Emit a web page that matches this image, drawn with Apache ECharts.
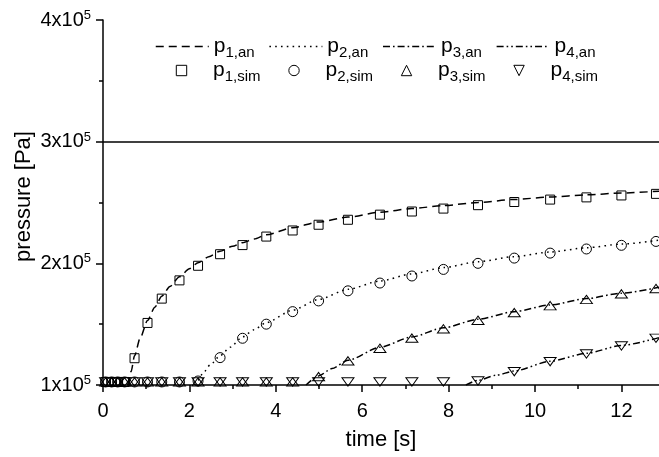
<!DOCTYPE html>
<html>
<head>
<meta charset="utf-8">
<script src="https://cdn.jsdelivr.net/npm/echarts@6.0.0/dist/echarts.min.js"></script>
<style>
html,body{margin:0;padding:0;background:#fff;}
#chart{width:659px;height:457px;}
</style>
</head>
<body>
<div id="chart"></div>
<script>
// ---- data ----
const times = [0.06, 0.2, 0.34, 0.5, 0.73, 1.03, 1.36, 1.77, 2.2, 2.71, 3.23, 3.78, 4.39, 4.99, 5.67, 6.41, 7.15, 7.88, 8.68, 9.52, 10.35, 11.19, 12.0, 12.8];
const p1Sim = [102500, 102500, 102500, 102500, 122000, 151000, 171000, 186000, 198000, 207500, 215000, 222000, 227000, 231700, 235800, 240000, 242600, 245000, 247800, 250400, 252400, 254200, 255800, 257100];
const p2Sim = [102500, 102500, 102500, 102500, 102500, 102500, 102500, 102500, 103300, 122500, 138400, 150000, 160300, 169100, 177400, 183800, 189600, 195000, 200000, 204300, 208400, 211800, 214800, 218000];
const p3Sim = [102500, 102500, 102500, 102500, 102500, 102500, 102500, 102500, 102500, 102500, 102500, 102500, 102500, 106900, 119800, 130200, 138500, 146200, 153200, 159500, 165200, 170300, 174900, 179300];
const p4Sim = [102500, 102500, 102500, 102500, 102500, 102500, 102500, 102500, 102500, 102500, 102500, 102500, 102500, 102500, 102500, 102500, 102500, 102500, 103300, 111000, 119200, 125500, 132100, 138400];

const p1AnT = [0.57, 0.65, 0.73, 0.86, 1.03, 1.2, 1.36, 1.55, 1.77, 2.0, 2.2, 2.45, 2.71, 3.0, 3.23, 3.5, 3.78, 4.39, 4.99, 5.67, 6.41, 7.15, 7.88, 8.68, 9.52, 10.35, 11.19, 12.0, 12.87];
const p1AnP = [100000, 111000, 124000, 138500, 153000, 164000, 173000, 181000, 189000, 195500, 200500, 205500, 210000, 214000, 217000, 220000, 223500, 229300, 234000, 238000, 242000, 245000, 247500, 250000, 252500, 254500, 256300, 257800, 259300];
const p2AnT = [2.12, 2.2, 2.32, 2.48, 2.71, 2.94, 3.23, 3.5, 3.78, 4.39, 4.99, 5.67, 6.41, 7.15, 7.88, 8.68, 9.52, 10.35, 11.19, 12.0, 12.87];
const p2AnP = [100000, 104000, 110000, 116500, 124000, 131000, 139500, 145500, 151300, 161500, 170300, 178600, 185500, 191300, 196500, 201300, 205500, 209300, 212800, 215800, 219000];
const p3AnT = [4.7, 4.99, 5.3, 5.67, 6.41, 7.15, 7.88, 8.68, 9.52, 10.35, 11.19, 12.0, 12.87];
const p3AnP = [100000, 107500, 113500, 120300, 131000, 139500, 147000, 154000, 160300, 165800, 171000, 175500, 180300];
const p4AnT = [8.4, 8.68, 9.1, 9.52, 10.35, 11.19, 12.0, 12.87];
const p4AnP = [100000, 103800, 108000, 111500, 119500, 126000, 132500, 139000];

const xTicks = [0, 2, 4, 6, 8, 10, 12];
const yTicks = [100000, 200000, 300000, 400000];
const refLine = 300000;

const legendNames = {
  p1an: '{m|p}{s|1,an}', p2an: '{m|p}{s|2,an}', p3an: '{m|p}{s|3,an}', p4an: '{m|p}{s|4,an}',
  p1sim: '{m|p}{s|1,sim}', p2sim: '{m|p}{s|2,sim}', p3sim: '{m|p}{s|3,sim}', p4sim: '{m|p}{s|4,sim}'
};

// ---- chart ----
const FONT = '"Liberation Sans", Arial, Helvetica, sans-serif';
const pairs = (a, b) => a.map((v, i) => [v, b[i]]);
const square = 'path://M0,0 L10,0 L10,10 L0,10 Z';
const triUp = 'path://M6,0 L12,10 L0,10 Z';
const triDown = 'path://M0,0 L12,0 L6,10 Z';
const hollow = { color: 'rgba(0,0,0,0)', borderColor: '#000', borderWidth: 1 };

const lineSeries = (name, t, p, dash, extra) => Object.assign({
  name, type: 'line', data: pairs(t, p), symbol: 'none', smooth: 0.25, smoothMonotone: 'x',
  lineStyle: { color: '#000', width: 1.5, type: dash }, itemStyle: { color: '#000' },
  z: 2, animation: false, silent: true
}, extra || {});
// simulated points: markers only (the connecting line is fully transparent)
const markerSeries = (name, vals, symbol, size) => ({
  name, type: 'line', data: pairs(times, vals), symbol, symbolSize: size,
  showSymbol: true, showAllSymbol: true, symbolKeepAspect: true,
  lineStyle: { width: 0, opacity: 0 },
  itemStyle: hollow, z: 3, animation: false, silent: true
});

const richText = {
  m: { fontSize: 21, fontFamily: FONT, color: '#000', lineHeight: 28, verticalAlign: 'middle' },
  s: { fontSize: 15, fontFamily: FONT, color: '#000', lineHeight: 15, verticalAlign: 'bottom' }
};

const chart = echarts.init(document.getElementById('chart'), null, { renderer: 'canvas' });
chart.setOption({
  backgroundColor: '#fff',
  animation: false,
  grid: { left: 103, right: 0, top: 20, bottom: 72, containLabel: false, outerBoundsMode: 'none' },
  legend: [
    {
      data: ['p1an', 'p2an', 'p3an', 'p4an'], left: 155, top: 36, orient: 'horizontal', padding: 0,
      itemWidth: 53, itemHeight: 14, itemGap: 14, selectedMode: false,
      lineStyle: { width: 1.5, color: '#000' },
      itemStyle: { color: 'rgba(0,0,0,0)', borderWidth: 0, opacity: 0 },
      formatter: n => legendNames[n], textStyle: { rich: richText, color: '#000' }
    },
    {
      data: ['p1sim', 'p2sim', 'p3sim', 'p4sim'], left: 155, top: 60, orient: 'horizontal', padding: 0,
      itemWidth: 53, itemHeight: 13, itemGap: 7, selectedMode: false,
      lineStyle: { width: 0, opacity: 0 },
      itemStyle: { color: 'rgba(0,0,0,0)', borderColor: '#000', borderWidth: 1 },
      formatter: n => legendNames[n], textStyle: { rich: richText, color: '#000' }
    }
  ],
  xAxis: {
    type: 'value', min: 0, max: 12.87, interval: 2,
    name: 'time [s]', nameLocation: 'middle', nameGap: 44, nameMoveOverlap: false,
    nameTextStyle: { fontSize: 22, fontFamily: FONT, color: '#000' },
    axisLine: { show: true, onZero: false, lineStyle: { color: '#000', width: 1.5 } },
    axisTick: { show: true, length: 7, customValues: xTicks, lineStyle: { color: '#000', width: 1.5 } },
    minorTick: { show: true, splitNumber: 2, length: 4, lineStyle: { color: '#000', width: 1.5 } },
    axisLabel: { customValues: xTicks, fontSize: 20, fontFamily: FONT, color: '#000', margin: 16 },
    splitLine: { show: false }, minorSplitLine: { show: false }
  },
  yAxis: {
    type: 'value', min: 100000, max: 400000, interval: 100000,
    name: 'pressure [Pa]', nameLocation: 'middle', nameGap: 68, nameMoveOverlap: false,
    nameTextStyle: { fontSize: 22, fontFamily: FONT, color: '#000', padding: [0, 0, 0, 12] },
    axisLine: { show: true, onZero: false, lineStyle: { color: '#000', width: 1.5 } },
    axisTick: { show: true, length: 7, lineStyle: { color: '#000', width: 1.5 } },
    minorTick: { show: true, splitNumber: 2, length: 4, lineStyle: { color: '#000', width: 1.5 } },
    axisLabel: {
      customValues: yTicks, margin: 12,
      formatter: v => '{m|' + Math.round(v / 100000) + 'x10}{e|5}',
      rich: {
        m: { fontSize: 20, fontFamily: FONT, color: '#000', lineHeight: 22, verticalAlign: 'middle' },
        e: { fontSize: 13, fontFamily: FONT, color: '#000', lineHeight: 13, verticalAlign: 'top' }
      }
    },
    splitLine: { show: false }, minorSplitLine: { show: false }
  },
  series: [
    lineSeries('p1an', p1AnT, p1AnP, [8, 5], {
      markLine: {
        silent: true, symbol: ['none', 'none'], label: { show: false }, animation: false,
        lineStyle: { color: '#000', width: 1.5, type: 'solid' },
        data: [{ yAxis: refLine }]
      }
    }),
    lineSeries('p2an', p2AnT, p2AnP, [1.6, 4.2]),
    lineSeries('p3an', p3AnT, p3AnP, [7, 3, 1.6, 3]),
    lineSeries('p4an', p4AnT, p4AnP, [7, 3, 1.6, 3, 1.6, 3]),
    markerSeries('p1sim', p1Sim, square, 9),
    markerSeries('p2sim', p2Sim, 'circle', 10),
    markerSeries('p3sim', p3Sim, triUp, [12, 10]),
    markerSeries('p4sim', p4Sim, triDown, [12, 10])
  ]
});
</script>
</body>
</html>
